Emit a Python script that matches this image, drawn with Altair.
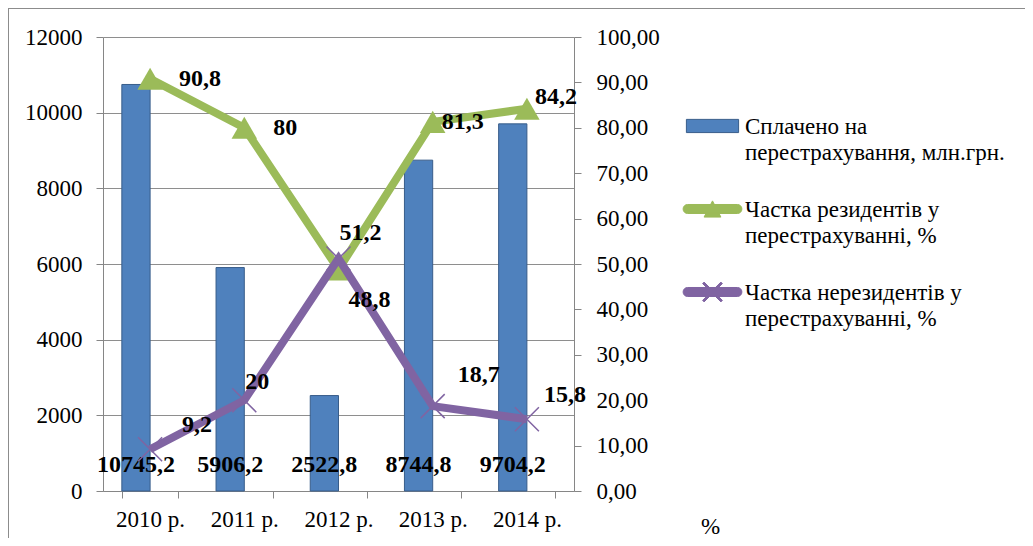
import altair as alt
import pandas as pd

# ---------------- data ----------------
years = ["2010 р.", "2011 р.", "2012 р.", "2013 р.", "2014 р."]
paid = [10745.2, 5906.2, 2522.8, 8744.8, 9704.2]
residents = [90.8, 80.0, 48.8, 81.3, 84.2]
nonresidents = [9.2, 20.0, 51.2, 18.7, 15.8]
amount_ticks = [0, 2000, 4000, 6000, 8000, 10000, 12000]
pct_ticks = [0, 10, 20, 30, 40, 50, 60, 70, 80, 90, 100]

s_paid = "Сплачено на|перестрахування, млн.грн."
s_res = "Частка резидентів у|перестрахуванні, %"
s_non = "Частка нерезидентів у|перестрахуванні, %"

# ---------------- styles ----------------
FONT = "Liberation Serif"
BLUE, BLUE_EDGE = "#4F81BD", "#385D8A"
GREEN, PURPLE = "#9BBB59", "#8064A2"
AXIS_GRAY = "#868686"
AX_FS = 23

# label offsets (dx, dy) per series / year, as placed in the original
res_off = [(29, 0), (29, 0), (10, 31), (9, 0), (8, -12)]
non_off = [(32, -24), (1, -18), (1, -26), (25, -31), (17, -24)]


def fmt(v):
    s = f"{v:.1f}".replace(".", ",")
    return s[:-2] if s.endswith(",0") else s


W, H = 471, 454

bars_df = pd.DataFrame({
    "year": years, "value": paid, "base": [0] * len(years),
    "label": [fmt(v) for v in paid], "grp": ["A"] * len(years),
})
res_df = pd.DataFrame({"year": years, "value": residents, "label": [fmt(v) for v in residents]})
non_df = pd.DataFrame({"year": years, "value": nonresidents, "label": [fmt(v) for v in nonresidents]})

x_enc = alt.X(
    "year:N", sort=years,
    scale=alt.Scale(paddingInner=0.4, paddingOuter=0.2),
    axis=alt.Axis(title=None, labelAngle=0, tickBand="extent", tickSize=7,
                  labelPadding=10, labelFontSize=AX_FS, labelColor="black", labelFont=FONT,
                  domainColor=AXIS_GRAY, tickColor=AXIS_GRAY, grid=False),
)
x_off = alt.XOffset("grp:N", scale=alt.Scale(domain=["A", "B"], paddingInner=0, paddingOuter=0))

y_left_scale = alt.Scale(domain=[0, 12000], nice=False)
left_axis = alt.Axis(title=None, values=amount_ticks, format="d", grid=True,
                     gridColor="#8e8e8e", tickSize=7, labelPadding=14,
                     labelFontSize=AX_FS, labelColor="black", labelFont=FONT,
                     domainColor=AXIS_GRAY, tickColor=AXIS_GRAY)

bars = alt.Chart(bars_df).mark_bar(fill=BLUE, stroke=BLUE_EDGE, strokeWidth=1).encode(
    x=x_enc, xOffset=x_off,
    y=alt.Y("value:Q", scale=y_left_scale, axis=left_axis),
)
bar_labels = alt.Chart(bars_df).mark_text(
    font=FONT, fontSize=24, fontWeight="bold", color="black", baseline="middle", dy=-26
).encode(x=x_enc, xOffset=x_off, y=alt.Y("base:Q", scale=y_left_scale), text="label:N")

frame_top = alt.Chart(bars_df).mark_rule(color="#8c8c8c", strokeWidth=1).encode(
    x=alt.value(-94.5), x2=alt.value(W + 451), y=alt.value(-28.5))
frame_left = alt.Chart(bars_df).mark_rule(color="#8c8c8c", strokeWidth=1).encode(
    x=alt.value(-94.5), y=alt.value(-28.5), y2=alt.value(H + 47))

left_layer = alt.layer(bars, bar_labels, frame_top, frame_left)

y_right_scale = alt.Scale(domain=[0, 100], nice=False)
right_axis = alt.Axis(orient="right", values=pct_ticks, grid=False, tickSize=7,
                      labelPadding=15, labelFontSize=AX_FS, labelColor="black", labelFont=FONT,
                      labelExpr="replace(format(datum.value, '.2f'), '.', ',')",
                      domainColor=AXIS_GRAY, tickColor=AXIS_GRAY,
                      title="%", titleAngle=0, titleX=136, titleY=489,
                      titleAlign="center", titleBaseline="middle", titleFont=FONT,
                      titleFontSize=AX_FS, titleFontWeight="normal", titleColor="black")

y_r = alt.Y("value:Q", scale=y_right_scale, axis=right_axis)
y_r2 = alt.Y("value:Q", scale=y_right_scale)

res_line = alt.Chart(res_df).mark_line(color=GREEN, strokeWidth=8).encode(x=x_enc, y=y_r)
res_pts = alt.Chart(res_df).mark_point(shape="triangle-up", filled=True, size=650,
                                       color=GREEN, opacity=1).encode(x=x_enc, y=y_r2)
non_line = alt.Chart(non_df).mark_line(color=PURPLE, strokeWidth=8).encode(x=x_enc, y=y_r2)
non_pts = alt.Chart(non_df).mark_point(shape="M-1,-1L1,1M-1,1L1,-1", filled=False, size=576,
                                       stroke=PURPLE, strokeWidth=1.5, opacity=1).encode(x=x_enc, y=y_r2)

label_layers = []
for df, offs in ((res_df, res_off), (non_df, non_off)):
    for yr, (dx, dy) in zip(years, offs):
        label_layers.append(
            alt.Chart(df).transform_filter(alt.datum.year == yr).mark_text(
                font=FONT, fontSize=24, fontWeight="bold", color="black", align="left",
                baseline="middle", dx=dx, dy=dy
            ).encode(x=x_enc, y=y_r2, text="label:N")
        )

# legend (symbols drawn as custom paths, unit = 30 px, centred 10 px below the entry)
names = [s_paid, s_res, s_non]
p_bar = "M-0.87,0.113L0.87,0.113L0.87,0.553L-0.87,0.553Z"
p_line = ("M-0.83,0.183L0.83,0.183A0.15,0.15 0 0 1 0.83,0.483L-0.83,0.483"
          "A0.15,0.15 0 0 1 -0.83,0.183Z")
p_green = p_line + " M-0.28,0.603L0,0.063L0.28,0.603Z"
p_purple = (p_line +
            " M-0.33,0.053L-0.28,0.003L0.33,0.613L0.28,0.663Z"
            " M0.28,0.003L0.33,0.053L-0.28,0.663L-0.33,0.613Z")
legend_df = pd.DataFrame({"name": names})
leg = alt.Legend(title=None, orient="none", legendX=579, legendY=48.5,
                 labelExpr="split(datum.label, '|')", labelLimit=500, labelFont=FONT,
                 labelFontSize=23, labelColor="black", labelBaseline="top",
                 labelOffset=2, symbolSize=3600, symbolStrokeWidth=1,
                 rowPadding=3, padding=0)
legend_layer = alt.Chart(legend_df).transform_filter("datum.name == 'none'").mark_point(
    filled=True, opacity=1, size=3600
).encode(
    shape=alt.Shape("name:N", scale=alt.Scale(domain=names, range=[p_bar, p_green, p_purple]), legend=leg),
    fill=alt.Fill("name:N", scale=alt.Scale(domain=names, range=[BLUE, GREEN, PURPLE]), legend=leg),
    stroke=alt.Stroke("name:N", scale=alt.Scale(domain=names, range=[BLUE_EDGE, GREEN, PURPLE]), legend=leg),
)

right_layer = alt.layer(res_line, res_pts, non_line, non_pts, *label_layers, legend_layer)

chart = alt.layer(left_layer, right_layer).resolve_scale(y="independent").properties(
    width=W, height=H,
    padding={"left": 95, "top": 29, "right": 451, "bottom": 47},
    autosize=alt.AutoSizeParams(type="none"),
).configure(
    font=FONT,
    style={"guide-label": {"lineHeight": 26, "font": FONT}},
).configure_view(fill="#E7E7E7", strokeWidth=0)

chart.save("out.html", embed_options={"renderer": "svg", "actions": False})
